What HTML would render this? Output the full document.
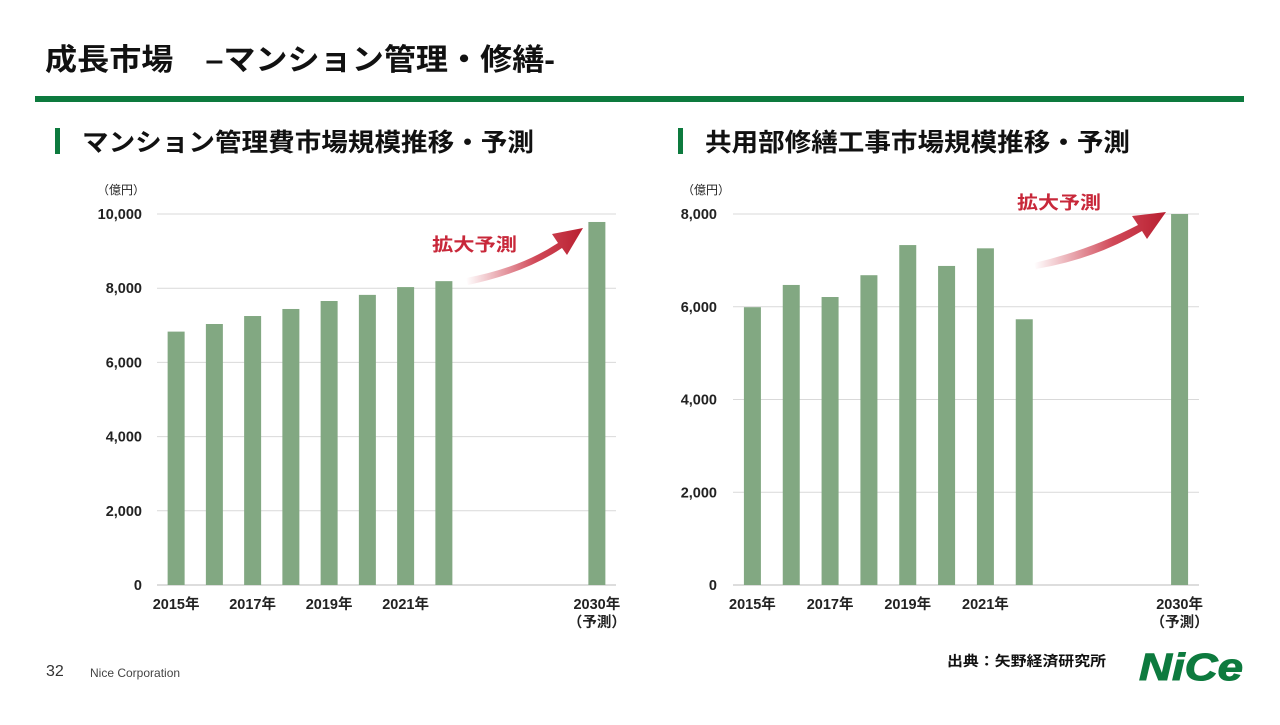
<!DOCTYPE html>
<html><head><meta charset="utf-8"><style>
body{margin:0;width:1280px;height:720px;background:#fff;overflow:hidden;font-family:"Liberation Sans","Noto Sans CJK JP",sans-serif;}
svg text{font-family:"Liberation Sans","Noto Sans CJK JP",sans-serif;}
</style></head><body>
<svg id="s" width="1280" height="720">
<defs>
<linearGradient id="ga" x1="0" y1="0" x2="1" y2="0"><stop offset="0" stop-color="#c8283a" stop-opacity="0"/><stop offset="0.6" stop-color="#c8283a" stop-opacity="0.85"/><stop offset="1" stop-color="#b81f30"/></linearGradient>
</defs>
<text x="45" y="70" font-size="30" font-weight="bold" fill="#111" textLength="510" lengthAdjust="spacingAndGlyphs">成長市場　–マンション管理・修繕-</text>
<rect x="35" y="96" width="1209" height="6" fill="#0d7a3e"/>
<rect x="55" y="128" width="5" height="26" fill="#0d7a3e"/>
<text x="82" y="151" font-size="25" font-weight="bold" fill="#111" textLength="452" lengthAdjust="spacingAndGlyphs">マンション管理費市場規模推移・予測</text>
<rect x="678" y="128" width="5" height="26" fill="#0d7a3e"/>
<text x="705" y="151" font-size="25" font-weight="bold" fill="#111" textLength="425" lengthAdjust="spacingAndGlyphs">共用部修繕工事市場規模推移・予測</text>
<text x="46" y="676" font-size="16" fill="#333">32</text>
<text x="90" y="677" font-size="12" fill="#444">Nice Corporation</text>
<text x="947" y="666" font-size="14" font-weight="bold" fill="#111" textLength="159" lengthAdjust="spacingAndGlyphs">出典：矢野経済研究所</text>
<text x="1139" y="680" font-size="38" font-weight="bold" font-style="italic" fill="#0d7a3e" textLength="104" lengthAdjust="spacingAndGlyphs" stroke="#0d7a3e" stroke-width="1">NiCe</text>
<g id="left"></g>
<g id="right"></g>
<path d="M466,278 Q520,268 558,243 L552,234 L583,228 L567,255 L562,248 Q525,273 468,285 Z" fill="url(#ga)"/>
<text x="432" y="251" font-size="18" font-weight="bold" fill="#c8283a" textLength="85" lengthAdjust="spacingAndGlyphs">拡大予測</text>
<path d="M1034,263 Q1090,250 1138,225 L1132,216 L1166,212 L1147,239 L1142,231 Q1095,259 1036,269 Z" fill="url(#ga)"/>
<text x="1017" y="209" font-size="18" font-weight="bold" fill="#c8283a" textLength="84" lengthAdjust="spacingAndGlyphs">拡大予測</text>
</svg>
<script>
const categories=["2015年","2016年","2017年","2018年","2019年","2020年","2021年","2022年","","","","2030年"];
const xLabels=["2015年","","2017年","","2019年","","2021年","","","","","2030年"];
const leftValues=[6830,7035,7250,7440,7655,7820,8030,8190,null,null,null,9785];
const rightValues=[5990,6470,6210,6680,7330,6880,7260,5730,null,null,null,8000];
const leftTicks=[0,2000,4000,6000,8000,10000];
const rightTicks=[0,2000,4000,6000,8000];
const NS="http://www.w3.org/2000/svg";
function mk(g,t,a,txt){const e=document.createElementNS(NS,t);for(const k in a)e.setAttribute(k,a[k]);if(txt!=null)e.textContent=txt;g.appendChild(e);return e;}
function chart(id,vals,ticks,max,x0,x1,yAxisX,unitX,pfx){
  const g=document.getElementById(id);const y0=585,yT=214;
  const y=v=>y0-(v/max)*(y0-yT);const bw=(x1-x0)/categories.length;const x=i=>x0+bw*(i+0.5);
  ticks.forEach(t=>{
    const l=mk(g,"line",{x1:x0,x2:x1,y1:y(t),y2:y(t),stroke:t===0?"#bbb":"#d9d9d9","stroke-width":1});
    
    
    const tx=mk(g,"text",{x:yAxisX,y:y(t)+5,"font-size":14.5,"font-weight":"bold","text-anchor":"end",fill:"#222"},t.toLocaleString("en-US"));
    
    
  });
  const u=mk(g,"text",{x:unitX,y:194,"font-size":12,fill:"#222"},"（億円）");
  
  
  vals.forEach((v,i)=>{
    if(v!=null){const r=mk(g,"rect",{x:x(i)-8.5,y:y(v),width:17,height:y0-y(v),fill:"#82a882"});
      
      }
    if(xLabels[i]){const tx=mk(g,"text",{x:x(i),y:609,"font-size":14.5,"font-weight":"bold","text-anchor":"middle",fill:"#222"},xLabels[i]);
      
      
      if(i===categories.length-1){const t2=mk(g,"text",{x:x(i),y:627,"font-size":14.5,"font-weight":"bold","text-anchor":"middle",fill:"#222"},"（予測）");
        
        }}
  });
}
chart("left",leftValues,leftTicks,10000,157,616,142,97,"left");
chart("right",rightValues,rightTicks,8000,733,1199,717,682,"right");
</script>
</body></html>
